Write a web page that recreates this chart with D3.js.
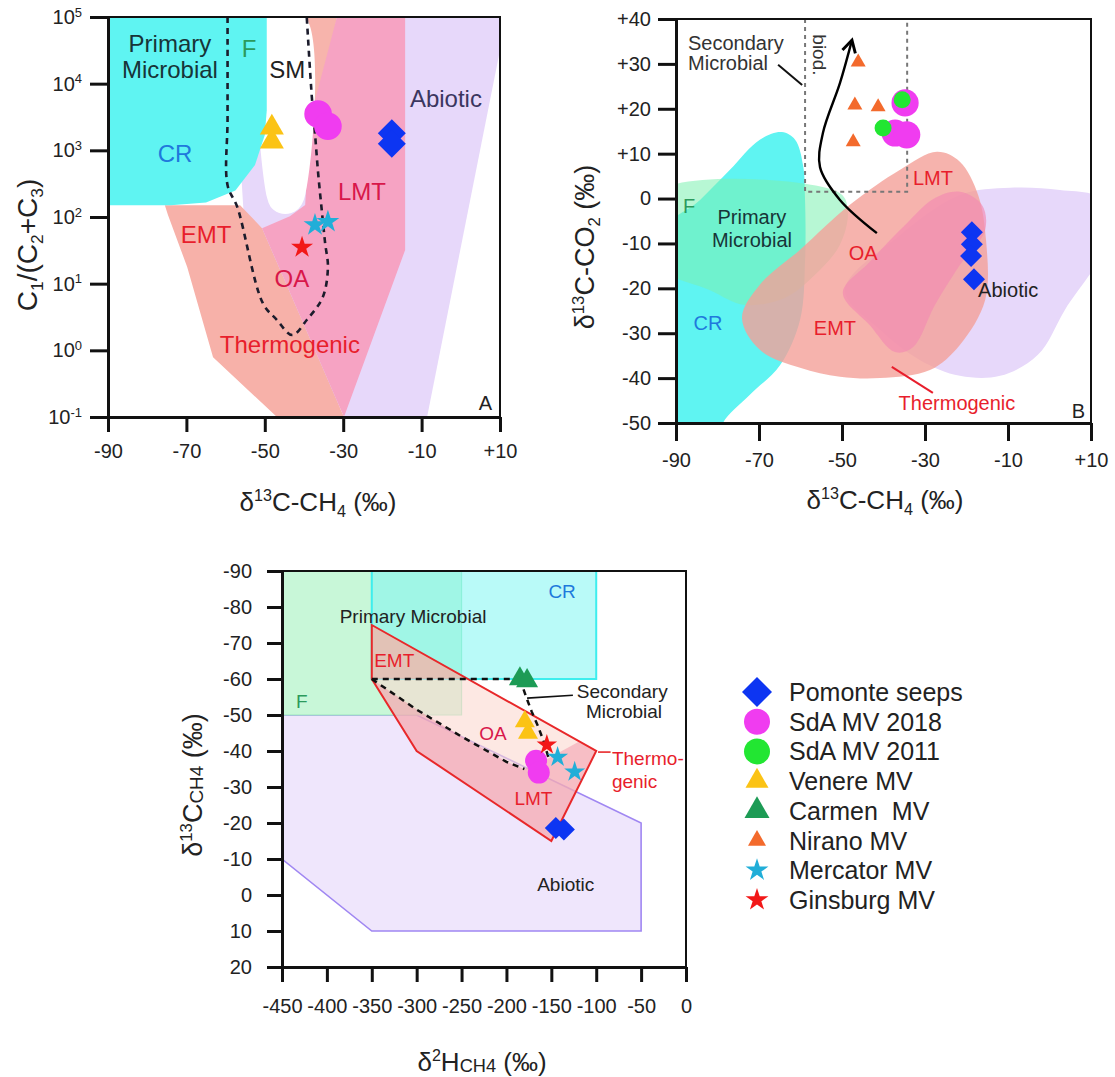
<!DOCTYPE html>
<html>
<head>
<meta charset="utf-8">
<title>Genetische diagrammen methaan</title>
<script src="https://cdn.jsdelivr.net/npm/d3@7"></script>
<style>
  body { margin: 0; background: #fff; }
  svg { font-family: "Liberation Sans", Arial, Helvetica, sans-serif; }
  .as path, .as line { stroke: #111; stroke-width: 3; }
  .as text { font-size: 20px; fill: #222; font-family: "Liberation Sans", Arial, sans-serif; }
</style>
</head>
<body>
<script>
// ---------- Panel A: C1/(C2+C3) tegen d13C-CH4 ----------
var aXTicks = [-90, -70, -50, -30, -10, 10];
var aYTicks = [0.1, 1, 10, 100, 1000, 10000, 100000];

var aPomonte = [[-17.6, 1800], [-17.6, 1250]];
var aSdA2018 = [[-36.4, 3500], [-33.9, 2300]];
var aVenere = [[-48.2, 2200], [-48.2, 1350]];
var aMercator = [[-37.2, 76], [-33.9, 85]];
var aGinsburg = [[-40.5, 35]];

// velden A
var aCR = [[-90, 1e5], [-49.5, 1e5], [-49.5, 4000], [-50, 1700], [-52.5, 600], [-57.5, 250], [-65, 165], [-74, 150], [-90, 150]];
var aAbiotic = [[10, 1e5], [10, 32000], [-8.6, 0.1], [-29.5, 0.1], [-55.1, 60], [-56.4, 1000], [-50.8, 6800], [-38.5, 1e5]];
var aThermo = [[-75.5, 150], [-56.3, 150], [-50.7, 68], [-29.8, 0.1], [-46.9, 0.1], [-63.2, 0.79], [-69.8, 17.8], [-74.7, 107]];
var aThermoTop = [[-39.7, 1e5], [-31.6, 1e5], [-35.4, 5700], [-39.5, 4000]];
var aLMT = [[-31.6, 1e5], [-14.2, 1e5], [-14.2, 32], [-29.8, 0.1], [-50.7, 68], [-43.6, 103], [-39.7, 151], [-38.5, 2850]];
var aSM = [[-49.4, 1e5], [-39.7, 1e5], [-39.7, 214], [-41.8, 127], [-44.8, 111], [-47.7, 127], [-49.4, 193]];
var aDash = [[-59.5, 1e5], [-59.5, 3000], [-59.5, 300], [-57, 140], [-50.5, 5.1], [-47, 2.9], [-43, 1.7], [-39.2, 2.9], [-35.2, 6.3], [-33.9, 17.8], [-34.6, 40], [-35.4, 115], [-36.4, 460], [-37.2, 1800], [-38, 6300], [-39.3, 1e5]];

var aLabels = [
  ["Primary", -74.2, 29900, "donker"], ["Microbial", -74.2, 12200, "donker"],
  ["F", -54, 25100, "groen"], ["SM", -44.3, 12200, "zwart"], ["CR", -72.9, 668, "blauw"],
  ["Abiotic", -3.8, 4470, "paars"], ["LMT", -25.2, 180, "karmijn"], ["EMT", -65, 40.7, "rood"],
  ["OA", -43.1, 8.9, "karmijn"], ["Thermogenic", -43.6, 0.91, "rood"]
];

// ---------- Panel B: d13C-CO2 tegen d13C-CH4 ----------
var bXTicks = [-90, -70, -50, -30, -10, 10];
var bYTicks = [40, 30, 20, 10, 0, -10, -20, -30, -40, -50];

var bPomonte = [[-18.7, -7.5], [-18.7, -10.2], [-18.9, -12.8], [-18.2, -18]];
var bSdA2018 = [[-34.8, 21.3], [-37.2, 14.6], [-34.4, 14.2]];
var bSdA2011 = [[-35.5, 22.0], [-40.1, 15.7]];
var bNirano = [[-46.1, 30.4], [-46.9, 20.8], [-41.3, 20.4], [-47.3, 12.6]];

var bCR = [[-95, -9], [-84.2, -0.3], [-77, 6.4], [-69.8, 13.1], [-64.5, 14.8], [-61.3, 13.1], [-59.4, 7.5], [-58.9, -0.3], [-58.9, -13.7], [-60.1, -27], [-64.9, -37.1], [-72.2, -43.7], [-78.7, -50], [-80, -56], [-95, -56]];
var bPrimary = [[-95, 1.2], [-50.5, 1.2], [-48.6, -3], [-50.5, -10.3], [-56.5, -17], [-63.7, -22.1], [-73.4, -23.7], [-81.8, -20.4], [-95, -14.5]];
var bThermo = [[-74.1, -26.6], [-69.8, -19.2], [-60.1, -11.4], [-48.1, -1.4], [-36, 6.4], [-27.1, 10.4], [-21.6, 8.2], [-17.2, 0.8], [-15.3, -9.2], [-15.5, -22.6], [-21.6, -32.6], [-28.8, -38.2], [-40.8, -40], [-50.5, -39.7], [-60.1, -37.7], [-69.8, -33.7]];
var bLMT = [[-49.8, -21], [-43.3, -14.1], [-34.8, -5.9], [-27.6, 0.1], [-21.6, 1.5], [-16.3, -1.4], [-15.5, -7], [-21.6, -14.8], [-27.6, -23.7], [-32.9, -33.1], [-37.2, -34.2], [-43.3, -28.2]];
var bAbiotic = [[-49.3, -20.4], [-36, -8.1], [-21.6, 0.8], [-9.5, 2.4], [2.5, 1.9], [12, 0], [14, -9.2], [3.7, -24.8], [-2.8, -34.8], [-11.9, -39.5], [-21.6, -39.5], [-31.2, -36], [-40.8, -29.3]];
var bBiod = [[-58.9, 40], [-58.9, 1.5], [-34.3, 1.5], [-34.3, 40]];
var bPijl = [[-41.6, -7.7], [-50.5, -0.3], [-55.3, 7], [-54.6, 14.6], [-50.5, 25.7], [-47.6, 35.3]];
var bSecLeader = [[-65.4, 29.8], [-59.6, 25.3]];
var bThermoLeader = [[-38, -37.5], [-28.1, -43.3]];

var bLabels = [
  ["Secondary", -87.1, 33.1, "grijs", "start"], ["Microbial", -87.1, 28.6, "grijs", "start"],
  ["LMT", -32.9, 3, "rood", "start"], ["F", -88.3, -3.2, "groen", "start"],
  ["Primary", -71.7, -5.7, "donker"], ["Microbial", -71.7, -10.8, "donker"],
  ["CR", -82.3, -29.3, "blauw"], ["EMT", -51.7, -30.4, "rood"], ["OA", -44.9, -13.7, "rood"],
  ["Abiotic", -17.2, -21.9, "zwart", "start"], ["Thermogenic", -22.3, -47.1, "rood"]
];

// ---------- Panel C: d13C-CH4 tegen d2H-CH4 ----------
var cXTicks = [-450, -400, -350, -300, -250, -200, -150, -100, -50, 0];
var cYTicks = [-90, -80, -70, -60, -50, -40, -30, -20, -10, 0, 10, 20];

var cPomonte = [[-145, -18.6], [-136, -18.2]];
var cSdA2018 = [[-167, -37.3], [-164, -34]];
var cVenere = [[-179.5, -48.2], [-176, -45]];
var cCarmen = [[-185, -60], [-177, -59.5]];
var cMercator = [[-143, -38.3], [-124, -34.2]];
var cGinsburg = [[-155, -41.7]];

var cPrimary = [[-450, -90], [-250, -90], [-250, -50], [-450, -50]];
var cCR = [[-350, -90], [-100, -90], [-100, -60], [-350, -60]];
var cAbiotic = [[-450, -50], [-300, -50], [-50, -20], [-50, 10], [-350, 10], [-450, -10]];
var cThermo = [[-350, -75], [-100, -40], [-150, -15], [-300, -40], [-350, -60]];
var cEMT = [[-350, -75], [-243, -60], [-350, -60]];
var cLMT = [[-350, -60], [-300, -51.5], [-250, -44], [-200, -37], [-180, -35], [-153, -38], [-120, -42.5], [-100, -40], [-150, -15], [-300, -40]];
var cDashH = [[-350, -60], [-185, -60]];
var cDashDiag = [[-350, -60], [-300, -51.5], [-250, -44], [-200, -37], [-180, -35]];
var cDashRechts = [[-185, -60], [-178, -55], [-172, -51], [-165, -47], [-159, -43], [-153, -38]];
var cSecLeader = [[-177, -54.7], [-126, -55.5]];
var cThermoLeader = [[-98, -39.7], [-84, -39.7]];

var cLabels = [
  ["Primary Microbial", -304, -75.6, "zwart"], ["CR", -138, -82.5, "blauw"], ["EMT", -325, -63.3, "rood"],
  ["F", -428, -52, "groen"], ["Secondary", -71, -54.7, "zwart"], ["Microbial", -69, -49.2, "zwart"],
  ["OA", -215, -43, "karmijn"], ["Thermo-", -82.5, -36.1, "rood", "start"], ["genic", -82.5, -29.7, "rood", "start"],
  ["LMT", -170, -25, "rood"], ["Abiotic", -134, -1.2, "zwart"]
];

// legenda
var legNamen = ["Pomonte seeps", "SdA MV 2018", "SdA MV 2011", "Venere MV", "Carmen  MV", "Nirano MV", "Mercator MV", "Ginsburg MV"];

// ---------- opmaak ----------
var kleuren = {donker: "#173538", zwart: "#222", grijs: "#333", groen: "#2c9a5c", blauw: "#2079dc",
  paars: "#3b3660", rood: "#e81e2c", karmijn: "#d8174a"};

var reeks = {
  pomonte: {type: d3.symbolSquare, kleur: "#0d35f2", draai: true},
  sda2018: {type: d3.symbolCircle, kleur: "#f03cf0"},
  sda2011: {type: d3.symbolCircle, kleur: "#22e632"},
  venere: {type: d3.symbolTriangle, kleur: "#fbc315"},
  carmen: {type: d3.symbolTriangle, kleur: "#1d9b55"},
  nirano: {type: d3.symbolTriangle, kleur: "#f36a2c"},
  mercator: {type: d3.symbolStar, kleur: "#21aed8"},
  ginsburg: {type: d3.symbolStar, kleur: "#f21818"}
};

var svg = d3.select("body").append("svg")
    .attr("width", 1115)
    .attr("height", 1077);
var defs = svg.append("defs");

// schalen
var xA = d3.scaleLinear().domain([-90, 10]).range([108, 500]);
var yA = d3.scaleLog().domain([0.1, 1e5]).range([417, 17]);
var xB = d3.scaleLinear().domain([-90, 10]).range([676, 1091]);
var yB = d3.scaleLinear().domain([-50, 40]).range([423, 19]);
var xC = d3.scaleLinear().domain([-450, 0]).range([282, 686]);
var yC = d3.scaleLinear().domain([-90, 20]).range([571, 967]);

function knip(id, x, y) {
  var y0 = d3.min(y.range()), y1 = d3.max(y.range());
  defs.append("clipPath").attr("id", id).append("rect")
      .attr("x", x.range()[0]).attr("y", y0)
      .attr("width", x.range()[1] - x.range()[0]).attr("height", y1 - y0);
  return svg.append("g").attr("clip-path", "url(#" + id + ")");
}

function pad(x, y, curve) {
  return d3.line()
      .x(function(d) { return x(d[0]); })
      .y(function(d) { return y(d[1]); })
      .curve(curve);
}

function veld(g, punten, x, y, kleur, curve) {
  return g.append("path").datum(punten)
      .attr("d", pad(x, y, curve || d3.curveLinearClosed))
      .attr("fill", kleur);
}

function lijn(g, punten, x, y, curve) {
  return g.append("path").datum(punten)
      .attr("d", pad(x, y, curve || d3.curveLinear))
      .attr("fill", "none");
}

function symbolen(punten, x, y, soort, grootte) {
  var s = reeks[soort];
  svg.append("g").selectAll("path").data(punten).enter().append("path")
      .attr("transform", function(d) {
        return "translate(" + x(d[0]) + "," + y(d[1]) + ")" + (s.draai ? " rotate(45)" : "");
      })
      .attr("d", d3.symbol().type(s.type).size(grootte))
      .attr("fill", s.kleur);
}

function labels(lijst, x, y, grootte) {
  svg.append("g").selectAll("text").data(lijst).enter().append("text")
      .attr("x", function(d) { return x(d[1]); })
      .attr("y", function(d) { return y(d[2]); })
      .attr("fill", function(d) { return kleuren[d[3]]; })
      .attr("text-anchor", function(d) { return d[4] || "middle"; })
      .attr("font-size", grootte)
      .text(function(d) { return d[0]; });
}

// tekst met super- en subscript
function rijk(el, delen, grootte) {
  var vorige = 0;
  delen.forEach(function(p) {
    var v = p[1] === "sub" ? grootte * 0.22 : (p[1] === "sup" ? -grootte * 0.38 : (p[1] === "klein" ? grootte * 0.04 : 0));
    var fs = (p[1] === "sub" || p[1] === "sup") ? grootte * 0.62 : (p[1] === "klein" ? grootte * 0.7 : grootte);
    el.append("tspan").attr("dy", v - vorige).attr("font-size", fs).text(p[0]);
    vorige = v;
  });
}

function kader(x, y) {
  var y0 = d3.min(y.range()), y1 = d3.max(y.range());
  svg.append("rect")
      .attr("x", x.range()[0]).attr("y", y0)
      .attr("width", x.range()[1] - x.range()[0]).attr("height", y1 - y0)
      .attr("fill", "none").attr("stroke", "#111").attr("stroke-width", 2);
}

function plus(d) { return d > 0 ? "+" + d : String(d); }
function gewoon(d) { return String(d); }

// =================== PANEL A ===================
var gA = knip("knipA", xA, yA);
veld(gA, aAbiotic, xA, yA, "#e7d8fa");
veld(gA, aThermo, xA, yA, "#f7b1a9");
veld(gA, aThermoTop, xA, yA, "#f7b4ac");
veld(gA, aLMT, xA, yA, "#f6a3c3");
veld(gA, aSM, xA, yA, "#ffffff", d3.curveCatmullRomClosed);
veld(gA, aCR, xA, yA, "#5ff4f2");
lijn(gA, aDash, xA, yA, d3.curveCatmullRom.alpha(0.5))
    .attr("stroke", "#1c1c2c").attr("stroke-width", 2.6).attr("stroke-dasharray", "6,5");

kader(xA, yA);

svg.append("g").attr("class", "as")
    .attr("transform", "translate(0," + yA.range()[0] + ")")
    .call(d3.axisBottom(xA).tickValues(aXTicks).tickFormat(plus).tickSize(15).tickPadding(12).tickSizeOuter(0));

var asAy = svg.append("g").attr("class", "as")
    .attr("transform", "translate(" + xA.range()[0] + ",0)")
    .call(d3.axisLeft(yA).tickValues(aYTicks).tickFormat(function() { return "10"; }).tickSize(18).tickPadding(8).tickSizeOuter(0));
asAy.selectAll(".tick text").each(function(d) {
  d3.select(this).append("tspan")
      .attr("dy", "-0.55em").attr("font-size", "13px")
      .text(Math.round(Math.log10(d)));
});

labels(aLabels, xA, yA, 24);
svg.append("text").attr("x", xA(8)).attr("y", yA(0.127)).attr("text-anchor", "end")
    .attr("font-size", 20).attr("fill", "#222").text("A");

symbolen(aVenere, xA, yA, "venere", 250);
symbolen(aSdA2018, xA, yA, "sda2018", 600);
symbolen(aPomonte, xA, yA, "pomonte", 392);
symbolen(aMercator, xA, yA, "mercator", 162);
symbolen(aGinsburg, xA, yA, "ginsburg", 150);

rijk(svg.append("text").attr("transform", "translate(37,245) rotate(-90)")
    .attr("text-anchor", "middle").attr("fill", "#222"),
    [["C"], ["1", "sub"], ["/(C"], ["2", "sub"], ["+C"], ["3", "sub"], [")"]], 28);

rijk(svg.append("text").attr("x", 318).attr("y", 511)
    .attr("text-anchor", "middle").attr("fill", "#222"),
    [["\u03b4"], ["13", "sup"], ["C-CH"], ["4", "sub"], [" (\u2030)"]], 26);

// =================== PANEL B ===================
var gB = knip("knipB", xB, yB);
veld(gB, bAbiotic, xB, yB, "#e7d8fa", d3.curveCatmullRomClosed);
veld(gB, bCR, xB, yB, "#5ff4f2", d3.curveCatmullRomClosed);
veld(gB, bPrimary, xB, yB, "#7cf0b0", d3.curveCatmullRomClosed).attr("fill-opacity", 0.55);
veld(gB, bThermo, xB, yB, "#f4a098", d3.curveCatmullRomClosed).attr("fill-opacity", 0.8);
veld(gB, bLMT, xB, yB, "#f28ab2", d3.curveCatmullRomClosed).attr("fill-opacity", 0.65);

lijn(gB, bBiod, xB, yB)
    .attr("stroke", "#777").attr("stroke-width", 2).attr("stroke-dasharray", "4,4");

defs.append("marker").attr("id", "pijlpunt")
    .attr("viewBox", "0 0 12 12").attr("refX", 10).attr("refY", 6)
    .attr("markerWidth", 16).attr("markerHeight", 16)
    .attr("markerUnits", "userSpaceOnUse").attr("orient", "auto")
  .append("path").attr("d", "M1,1 L10,6 L1,11")
    .attr("fill", "none").attr("stroke", "#000").attr("stroke-width", 2.2);

lijn(gB, bPijl, xB, yB, d3.curveCatmullRom)
    .attr("stroke", "#000").attr("stroke-width", 2.4).attr("marker-end", "url(#pijlpunt)");
lijn(gB, bSecLeader, xB, yB).attr("stroke", "#111").attr("stroke-width", 2);
lijn(gB, bThermoLeader, xB, yB).attr("stroke", "#e81e2c").attr("stroke-width", 2);

kader(xB, yB);

svg.append("g").attr("class", "as")
    .attr("transform", "translate(0," + yB.range()[0] + ")")
    .call(d3.axisBottom(xB).tickValues(bXTicks).tickFormat(plus).tickSize(18).tickPadding(12).tickSizeOuter(0));
svg.append("g").attr("class", "as")
    .attr("transform", "translate(" + xB.range()[0] + ",0)")
    .call(d3.axisLeft(yB).tickValues(bYTicks).tickFormat(plus).tickSize(18).tickPadding(7).tickSizeOuter(0));

labels(bLabels, xB, yB, 20);
svg.append("text").attr("transform", "translate(" + xB(-55.3) + "," + yB(32) + ") rotate(90)")
    .attr("text-anchor", "middle").attr("dy", "0.35em")
    .attr("font-size", 19).attr("fill", "#333").text("biod.");
svg.append("text").attr("x", xB(8.6)).attr("y", yB(-48.9)).attr("text-anchor", "end")
    .attr("font-size", 20).attr("fill", "#222").text("B");

symbolen(bNirano, xB, yB, "nirano", 97);
symbolen(bSdA2018, xB, yB, "sda2018", 580);
symbolen(bSdA2011, xB, yB, "sda2011", 227);
symbolen(bPomonte, xB, yB, "pomonte", 242);

rijk(svg.append("text").attr("transform", "translate(594,247) rotate(-90)")
    .attr("text-anchor", "middle").attr("fill", "#222"),
    [["\u03b4"], ["13", "sup"], ["C-CO"], ["2", "sub"], [" (\u2030)"]], 27);

rijk(svg.append("text").attr("x", 885).attr("y", 509)
    .attr("text-anchor", "middle").attr("fill", "#222"),
    [["\u03b4"], ["13", "sup"], ["C-CH"], ["4", "sub"], [" (\u2030)"]], 26);

// =================== PANEL C ===================
var gC = knip("knipC", xC, yC);
veld(gC, cAbiotic, xC, yC, "#efe6fc").attr("stroke", "#a087f2").attr("stroke-width", 1.6);
veld(gC, cPrimary, xC, yC, "#c8f7d8").attr("stroke", "#9be9bd").attr("stroke-width", 1.2);
veld(gC, cCR, xC, yC, "#7ff6f2").attr("fill-opacity", 0.55).attr("stroke", "#3deeee").attr("stroke-width", 2);
veld(gC, cThermo, xC, yC, "#fbd8d0").attr("fill-opacity", 0.6);
veld(gC, cEMT, xC, yC, "#f09a8c").attr("fill-opacity", 0.45);
veld(gC, cLMT, xC, yC, "#f08ca0").attr("fill-opacity", 0.45);
veld(gC, cThermo, xC, yC, "none").attr("stroke", "#e8282a").attr("stroke-width", 2);

[cDashH, cDashDiag, cDashRechts].forEach(function(s) {
  lijn(gC, s, xC, yC).attr("stroke", "#111").attr("stroke-width", 2.5).attr("stroke-dasharray", "6,5");
});
lijn(gC, cSecLeader, xC, yC).attr("stroke", "#111").attr("stroke-width", 1.6);
lijn(gC, cThermoLeader, xC, yC).attr("stroke", "#e8282a").attr("stroke-width", 1.6);

kader(xC, yC);

svg.append("g").attr("class", "as")
    .attr("transform", "translate(0," + yC.range()[1] + ")")
    .call(d3.axisBottom(xC).tickValues(cXTicks).tickFormat(gewoon).tickSize(15).tickPadding(17).tickSizeOuter(0));
svg.append("g").attr("class", "as")
    .attr("transform", "translate(" + xC.range()[0] + ",0)")
    .call(d3.axisLeft(yC).tickValues(cYTicks).tickFormat(gewoon).tickSize(15).tickPadding(15).tickSizeOuter(0));

labels(cLabels, xC, yC, 19);

symbolen(cCarmen, xC, yC, "carmen", 210);
symbolen(cVenere, xC, yC, "venere", 173);
symbolen(cSdA2018, xC, yC, "sda2018", 380);
symbolen(cGinsburg, xC, yC, "ginsburg", 130);
symbolen(cMercator, xC, yC, "mercator", 136);
symbolen(cPomonte, xC, yC, "pomonte", 242);

rijk(svg.append("text").attr("transform", "translate(202,785) rotate(-90)")
    .attr("text-anchor", "middle").attr("fill", "#222"),
    [["\u03b4"], ["13", "sup"], ["C"], ["CH4", "klein"], [" (\u2030)"]], 27);

rijk(svg.append("text").attr("x", 482).attr("y", 1071)
    .attr("text-anchor", "middle").attr("fill", "#222"),
    [["\u03b4"], ["2", "sup"], ["H"], ["CH4", "klein"], [" (\u2030)"]], 26);

// =================== LEGENDA ===================
var legSoort = ["pomonte", "sda2018", "sda2011", "venere", "carmen", "nirano", "mercator", "ginsburg"];
var legGrootte = [450, 531, 531, 229, 271, 140, 162, 162];
var leg = svg.append("g").attr("transform", "translate(757,692)");
legSoort.forEach(function(s, i) {
  var r = reeks[s];
  leg.append("path")
      .attr("transform", "translate(0," + (i * 29.7) + ")" + (r.draai ? " rotate(45)" : ""))
      .attr("d", d3.symbol().type(r.type).size(legGrootte[i]))
      .attr("fill", r.kleur);
  leg.append("text")
      .attr("x", 32).attr("y", i * 29.7).attr("dy", "0.36em")
      .attr("font-size", 25).attr("fill", "#222")
      .style("white-space", "pre")
      .text(legNamen[i]);
});
</script>
</body>
</html>
